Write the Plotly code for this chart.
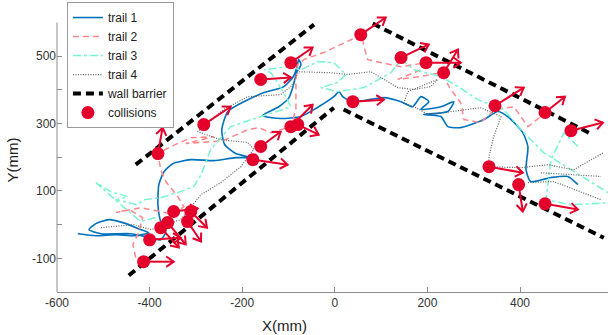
import math
import plotly.graph_objects as go

# ---------------- data (mm) ----------------
trail1_x = [-555,-516,-473,-430,-402,-419,-451,-488,-516,-531,-505,-441,-397,-376,-365,-376,-382,-380,-369,-350,
            -311,-261,-214,-181,-214,-238,-244,-231,-192,-153,-110,-91,-82,-78,-73,-82,-89,-99,-121,-156,
            -117,-73,-41,-2,9,17,39,106,143,168,186,203,186,229,257,244,192,229,244,272,
            322,352,376,406,417,413,423,467,503,525]
trail1_y = [-27,-33,-30,-33,-24,-15,3,15,3,-15,-27,-27,-39,-45,-21,9,59,119,157,181,
            193,190,199,199,211,238,282,336,368,392,410,437,466,490,475,454,416,377,350,324,
            315,321,345,380,395,380,365,377,365,350,380,365,342,350,365,336,327,321,291,288,
            312,336,318,273,232,163,128,140,143,119]

trail2_x = [-430,-436,-423,-415,-445,-473,-419,-376,-350,-326,-339,-365,-376,-382,-354,-311,-261,-322,-242,-188,
            -164,-138,-95,-84,-84,-80,-67,-24,35,58,63,71,121,143,197,186,136,186,229,251,
            272,279,315,346,387,417,445,454]
trail2_y = [-98,-59,-21,21,45,36,50,39,30,53,83,128,163,211,232,258,261,241,249,282,
            288,273,291,342,431,475,490,511,549,564,529,490,475,469,481,460,431,440,451,401,
            362,312,303,342,350,291,321,333]

trail3_x = [-387,-419,-462,-516,-484,-447,-473,-426,-413,-376,-339,-305,-289,-268,-225,-166,-95,-110,-138,-153,
            -102,-73,-37,-2,24,6,-30,6,63,121,143,171,229,266,309,365,408,451,510,590,
            None,525,495,467,456,510,590]
trail3_y = [21,9,59,125,98,83,74,59,74,80,95,113,148,223,291,318,350,392,451,460,
            469,460,484,481,446,422,407,395,407,451,490,460,440,410,371,342,273,214,163,95,
            None,232,273,193,74,59,65]

trail4_x = [-505,-434,-397,-365,-333,-289,-246,-203,-175,-188,-246,-296,-240,-188,-117,-95,-78,-9,28,78,
            106,136,171,207,222,158,149,171,201,257,315,359,343,333,333,402,460,516,581,
            None,417,473,575,None,445,575]
trail4_y = [-9,0,-15,0,15,89,125,172,223,244,252,276,342,380,386,410,454,451,446,454,
            431,407,401,410,431,395,362,350,327,336,347,321,261,202,172,169,178,163,214,
            None,125,128,74,None,154,143]

wall_x = [-430,-45,None,82,553,None,-445,-2,None,19,581]
wall_y = [178,594,None,597,270,None,-151,347,None,342,-39]

coll_x = [-382,-283,-160,-95,-95,-80,-160,-177,39,56,143,197,235,346,454,510,333,397,454,
          -348,-311,-361,-318,-376,-400,-413]
coll_y = [211,297,431,481,291,297,232,193,365,564,496,481,451,353,333,279,172,119,62,
          39,39,6,9,-9,-45,-110]
coll_u = [10,58,65,47,47,45,43,75,67,54,60,75,31,62,43,69,73,9,71,
          52,35,39,29,39,67,65]
coll_v = [77,53,6,45,65,-30,44,-15,6,51,39,0,69,54,47,24,-18,-80,-17,
          9,-48,-65,-59,-59,6,0]

x_ticks = [-600,-400,-200,0,200,400]
y_ticks = [-100,0,100,200,300,400,500]
y_ticktext = ['-100','','100','','300','','500']

# ---------------- layout constants ----------------
W, H = 608, 335
ML, MR, MT, MB = 57, 0, 0, 43
XR = [-600, 590]
YR = [-200, 667]
sx = (W - ML - MR) / (XR[1] - XR[0])
sy = (H - MT - MB) / (YR[1] - YR[0])

RED = '#E5002B'
FONT = 'Liberation Sans, Arial, Helvetica, sans-serif'

# arrows (shaft + open V head computed in pixel space)
ax, ay = [], []
head_len = 9.0
head_ang = math.radians(35)
for x0, y0, u, v in zip(coll_x, coll_y, coll_u, coll_v):
    x1, y1 = x0 + u, y0 + v
    ax += [x0, x1, None]
    ay += [y0, y1, None]
    dxp, dyp = u * sx, v * sy
    L = math.hypot(dxp, dyp)
    bx, by = -dxp / L, -dyp / L
    ends = []
    for a in (head_ang, -head_ang):
        hx = bx * math.cos(a) - by * math.sin(a)
        hy = bx * math.sin(a) + by * math.cos(a)
        ends.append((x1 + hx * head_len / sx, y1 + hy * head_len / sy))
    ax += [ends[0][0], x1, ends[1][0], None]
    ay += [ends[0][1], y1, ends[1][1], None]

fig = go.Figure()
fig.add_trace(go.Scatter(x=trail1_x, y=trail1_y, mode='lines', name='trail 1',
                         line=dict(color='#0072BD', width=1.6, shape='spline', smoothing=0.6)))
fig.add_trace(go.Scatter(x=trail2_x, y=trail2_y, mode='lines', name='trail 2',
                         line=dict(color='rgb(255,135,140)', width=1.5, dash='6px,4px')))
fig.add_trace(go.Scatter(x=trail3_x, y=trail3_y, mode='lines', name='trail 3',
                         line=dict(color='rgb(120,245,210)', width=1.5, dash='8px,3px,3px,3px')))
fig.add_trace(go.Scatter(x=trail4_x, y=trail4_y, mode='lines', name='trail 4',
                         line=dict(color='rgb(95,95,95)', width=1.2, dash='1px,1.5px')))
fig.add_trace(go.Scatter(x=wall_x, y=wall_y, mode='lines', name='wall barrier',
                         line=dict(color='black', width=4, dash='8px,5px')))
fig.add_trace(go.Scatter(x=ax, y=ay, mode='lines', showlegend=False, hoverinfo='skip',
                         line=dict(color=RED, width=2)))
fig.add_trace(go.Scatter(x=coll_x, y=coll_y, mode='markers', name='collisions',
                         marker=dict(color=RED, size=13)))

fig.update_layout(
    width=W, height=H,
    margin=dict(l=ML, r=MR, t=MT, b=MB),
    paper_bgcolor='white', plot_bgcolor='white',
    font=dict(family=FONT, size=12, color='#333'),
    showlegend=True,
    legend=dict(x=0.018, y=0.993, xanchor='left', yanchor='top',
                bordercolor='#9a9a9a', borderwidth=1, bgcolor='white',
                font=dict(size=12, color='#222'), itemwidth=30,
                tracegroupgap=0),
    xaxis=dict(range=XR, showgrid=False, zeroline=False, showline=True,
               linecolor='#8c8c8c', linewidth=1, ticks='inside', ticklen=5,
               tickcolor='#8c8c8c', tickvals=x_ticks, ticktext=[str(v) for v in x_ticks],
               tickfont=dict(size=12, color='#333')),
    yaxis=dict(range=YR, showgrid=False, zeroline=False, showline=False,
               ticks='inside', ticklen=5, tickcolor='#8c8c8c',
               tickvals=y_ticks, ticktext=y_ticktext,
               tickfont=dict(size=12, color='#333')),
    shapes=[dict(type='line', xref='paper', yref='y', x0=0, x1=0, y0=YR[0], y1=600,
                 line=dict(color='#8c8c8c', width=1))],
    annotations=[
        dict(text='X(mm)', xref='paper', yref='paper', x=0.412, y=-0.116,
             xanchor='center', yanchor='middle', showarrow=False,
             font=dict(size=15, color='#222')),
        dict(text='Y(mm)', xref='paper', yref='paper', x=-0.081, y=0.452,
             xanchor='center', yanchor='middle', showarrow=False, textangle=-90,
             font=dict(size=15, color='#222')),
    ],
)

fig.write_html('out.html',
               config={'displayModeBar': False, 'staticPlot': True},
               post_script="document.body.style.margin='0';document.body.style.padding='0';")
